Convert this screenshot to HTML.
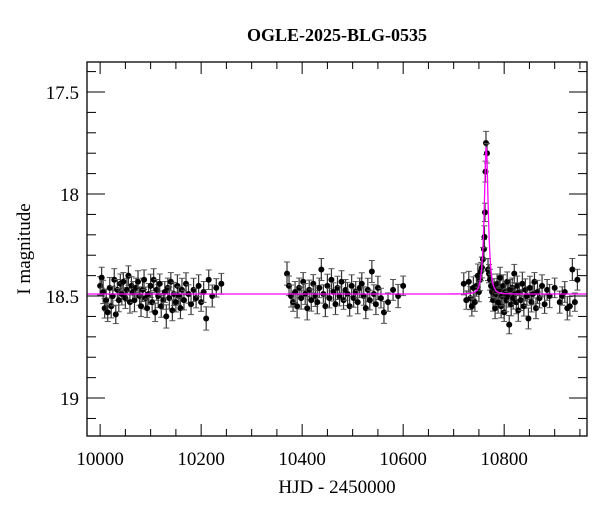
<!DOCTYPE html>
<html><head><meta charset="utf-8"><style>
body{margin:0;background:#fff}
svg text{font-family:"Liberation Serif",serif;fill:#000}
</style></head><body>
<svg id="c" width="600" height="512"></svg>
<script>
const timesSeg = [10000,10003,10006,10009,10012,10015,10019,10022,10025,10028,10031,10034,10037,10040,10043,10046,10050,10053,10056,10059,10062,10065,10068,10071,10075,10078,10081,10084,10087,10090,10093,10096,10100,10103,10106,10109,10112,10115,10118,10121,10125,10128,10131,10134,10137,10140,10143,10146,10150,10153,10156,10159,10162,10166,10170,10175,10180,10185,10190,10195,10200,10205,10210,10215,10222,10230,10240,
10370,10374,10378,10382,10386,10390,10394,10398,10402,10406,10410,10414,10418,10422,10426,10430,10434,10438,10442,10446,10450,10454,10458,10462,10466,10470,10474,10478,10482,10486,10490,10494,10498,10502,10506,10510,10514,10518,10522,10526,10530,10534,10538,10542,10546,10550,10556,10562,10570,10580,10590,10600,
10720,10725,10730,10733,10736,10739,10742,10745,10748,10750,10752,10754,10756,10758,10760,10761,10762,10763,10764,10766,10768,10770,10772,10774,10776,10778,10780,10782,10784,10786,10788,10790,10792,10794,10796,10798,10800,10802,10804,10806,10808,10810,10812,10814,10816,10818,10820,10822,10824,10826,10828,10830,10833,10836,10839,10842,10845,10848,10851,10854,10857,10860,10863,10866,10870,10875,10880,10885,10890,10900,10910,10915,10920,10925,10930,10935,10940,10945];
const mags = [18.45,18.41,18.48,18.56,18.52,18.58,18.46,18.55,18.50,18.42,18.59,18.47,18.52,18.44,18.49,18.43,18.51,18.47,18.40,18.53,18.45,18.48,18.52,18.46,18.43,18.50,18.55,18.47,18.42,18.51,18.56,18.49,18.45,18.53,18.42,18.58,18.47,18.50,18.44,18.55,18.52,18.48,18.60,18.46,18.51,18.43,18.57,18.49,18.53,18.45,18.50,18.56,18.47,18.52,18.44,18.49,18.54,18.47,18.51,18.45,18.53,18.48,18.61,18.42,18.50,18.46,18.44,
18.39,18.45,18.50,18.53,18.48,18.55,18.46,18.51,18.43,18.49,18.56,18.47,18.52,18.44,18.50,18.53,18.46,18.37,18.49,18.55,18.45,18.51,18.42,18.48,18.54,18.46,18.50,18.43,18.52,18.47,18.49,18.55,18.45,18.51,18.48,18.53,18.46,18.44,18.50,18.56,18.47,18.52,18.38,18.49,18.54,18.46,18.51,18.58,18.53,18.47,18.50,18.45,
18.44,18.52,18.43,18.51,18.55,18.46,18.53,18.45,18.40,18.48,18.42,18.38,18.36,18.32,18.27,18.21,18.09,17.89,17.75,17.80,18.37,18.39,18.42,18.45,18.48,18.52,18.46,18.56,18.49,18.44,18.53,18.47,18.41,18.55,18.50,18.45,18.58,18.48,18.52,18.43,18.50,18.64,18.47,18.54,18.46,18.51,18.39,18.49,18.53,18.45,18.57,18.48,18.52,18.44,18.55,18.47,18.50,18.61,18.46,18.53,18.49,18.43,18.56,18.48,18.51,18.45,18.54,18.47,18.50,18.46,18.53,18.50,18.48,18.56,18.55,18.37,18.53,18.42];
const modelParams = [10764.5, 18.49, 0.55, 6.5]; // t0, baseline mag, u0, tE
const xTicks = [10000,10200,10400,10600,10800];
const yTicks = [17.5,18,18.5,19];

const X0=87,X1=587,Y0=62,Y1=436, TMIN=9974, TMAX=10964, MMIN=17.353, MMAX=19.186;
const sx=t=>X0+(t-TMIN)/(TMAX-TMIN)*(X1-X0);
const sy=m=>Y0+(m-MMIN)/(MMAX-MMIN)*(Y1-Y0);
const svg=document.getElementById('c');
const NS='http://www.w3.org/2000/svg';
function mk(tag,at,parent){const e=document.createElementNS(NS,tag);for(const k in at)e.setAttribute(k,at[k]);(parent||svg).appendChild(e);return e;}

const [t0,mb,u0,tE]=modelParams;
let d='';
for(let t=TMIN;t<=TMAX;t+=0.5){const u=Math.sqrt(u0*u0+((t-t0)/tE)**2);const A=(u*u+2)/(u*Math.sqrt(u*u+4));const A0=(u0*u0+2)/(u0*Math.sqrt(u0*u0+4));const a=1+(A-1)/(A0-1)*(Math.pow(10,0.4*(mb-17.77))-1);const m=mb-2.5*Math.log10(a);d+=(d?'L':'M')+sx(t).toFixed(2)+' '+sy(m).toFixed(2);}

const pg=mk('g',{});


for(let i=0;i<timesSeg.length;i++){
  const x=sx(timesSeg[i]),y=sy(mags[i]),e=(0.045+0.012*((i*7)%5)/4)*(Y1-Y0)/(MMAX-MMIN);
  const g=mk('g',{},pg);
  
  
  mk('line',{x1:x,x2:x,y1:y-e,y2:y+e,stroke:'#333','stroke-width':1.2},g);
  mk('line',{x1:x-3,x2:x+3,y1:y-e,y2:y-e,stroke:'#555','stroke-width':1},g);
  mk('line',{x1:x-3,x2:x+3,y1:y+e,y2:y+e,stroke:'#555','stroke-width':1},g);
  mk('circle',{cx:x,cy:y,r:3,fill:'#000'},g);
}
const ml=mk('path',{d:d,fill:'none',stroke:'#ff00ff','stroke-width':1.3});



const fr=mk('rect',{x:X0,y:Y0,width:X1-X0,height:Y1-Y0,fill:'none',stroke:'#000','stroke-width':1.3});


const tg=mk('g',{stroke:'#000','stroke-width':1});


for(let t=10000;t<=TMAX;t+=50){const x=sx(t),L=(t%200===0)?12:7;
  mk('line',{x1:x,x2:x,y1:Y1,y2:Y1-L},tg);mk('line',{x1:x,x2:x,y1:Y0,y2:Y0+L},tg);}
for(let m=17.4;m<=19.15;m+=0.1){const mm=Math.round(m*10)/10,y=sy(mm),L=(Math.abs(mm*2-Math.round(mm*2))<1e-6)?18:9;
  mk('line',{x1:X0,x2:X0+L,y1:y,y2:y},tg);mk('line',{x1:X1,x2:X1-L,y1:y,y2:y},tg);}
xTicks.forEach(t=>{const e=mk('text',{x:sx(t),y:465,'text-anchor':'middle','font-size':19});e.textContent=t;
  });
yTicks.forEach(m=>{const e=mk('text',{x:79,y:sy(m)+7,'text-anchor':'end','font-size':19});e.textContent=m;
  });
const ti=mk('text',{x:337,y:41,'text-anchor':'middle','font-size':18,'font-weight':'bold'});ti.textContent='OGLE-2025-BLG-0535';

const xl=mk('text',{x:337,y:493,'text-anchor':'middle','font-size':19});xl.textContent='HJD - 2450000';

const yl=mk('text',{x:0,y:0,'text-anchor':'middle','font-size':19,transform:'translate(30,249) rotate(-90)'});yl.textContent='I magnitude';

</script>
</body></html>
